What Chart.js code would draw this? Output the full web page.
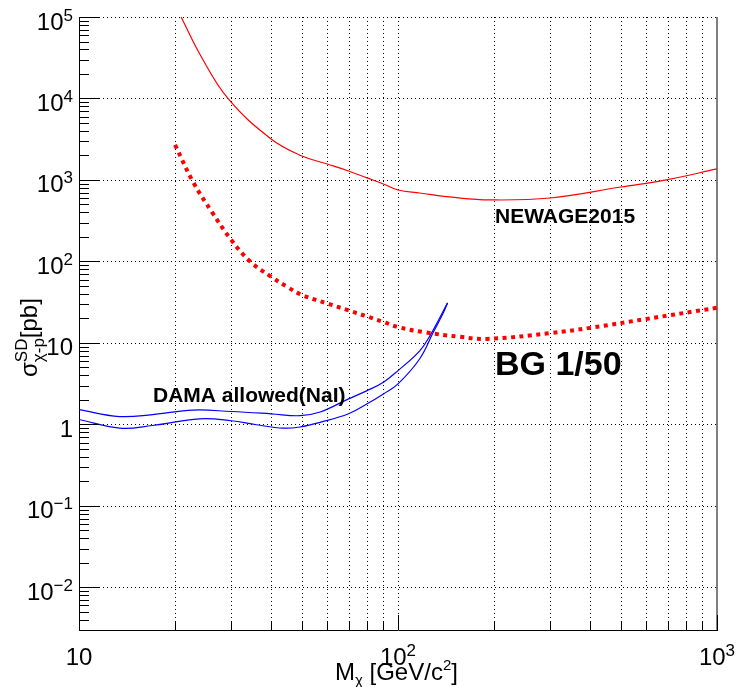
<!DOCTYPE html>
<html>
<head>
<meta charset="utf-8">
<script src="https://cdn.jsdelivr.net/npm/chart.js@4.4.0/dist/chart.umd.min.js"></script>
<style>
  body { margin: 0; background: #fff; }
</style>
</head>
<body>
<canvas id="myChart" width="737" height="687"></canvas>
<script>
// NEWAGE2015 limit (thin red line), M [GeV/c2] vs sigma [pb]
const newageMass = [20.9, 24.0, 29.3, 40, 50, 60, 70, 80, 90, 100, 117, 150, 194, 300, 500, 700, 1000]
const newageSigma = [100000, 34200, 10000, 3190, 1970, 1570, 1290, 1060, 893, 753, 692, 610, 569, 601, 820, 1010, 1365]

// BG 1/50 projection (thick dashed red)
const bgMass = [20, 22.8, 26.1, 30, 34.4, 40, 45, 50, 60, 70, 80, 90, 100, 120, 156, 190, 300, 400, 600, 1000]
const bgSigma = [2700, 940, 405, 184, 100, 65, 48.6, 38.8, 30.5, 25.1, 21.1, 18.1, 15.7, 13.6, 11.9, 11.2, 13.2, 15.3, 19.7, 27]

// DAMA allowed region (NaI), lower and upper edge of the contour
const damaLowMass = [10, 13.4, 17, 23.9, 30, 36, 43.7, 49.3, 57, 70, 80, 90, 100, 117, 129, 139, 143]
const damaLowSigma = [1.15, 0.90, 0.97, 1.17, 1.11, 0.99, 0.90, 0.93, 1.06, 1.35, 1.79, 2.37, 3.14, 6.4, 13.5, 23.8, 31]
const damaUpMass = [10, 13.4, 17, 22.8, 30, 40, 49.3, 57, 70, 80, 90, 100, 117, 126, 143]
const damaUpSigma = [1.52, 1.25, 1.32, 1.50, 1.44, 1.35, 1.28, 1.42, 2.06, 2.6, 3.3, 4.57, 8.0, 12.3, 31]

// axis ticks
const xDecades = [10, 100, 1000]
const xDecadeExp = [1, 2, 3]
const yDecades = [0.001, 0.01, 0.1, 1, 10, 100, 1000, 10000, 100000]
const yDecadeExp = [-3, -2, -1, 0, 1, 2, 3, 4, 5]

const FONT = '"Liberation Sans", Arial, Helvetica, sans-serif'
const ctx = document.getElementById("myChart")

function pts(xs, ys) {
  return xs.map((x, i) => ({ x: x, y: ys[i] }))
}

function font(size, bold) {
  return (bold ? "bold " : "") + size + "px " + FONT
}

// label like 10^n drawn as "10" + superscript
function powParts(e) {
  if (e === 0) return [{ t: "1", size: 24, dy: 0 }]
  if (e === 1) return [{ t: "10", size: 24, dy: 0 }]
  return [{ t: "10", size: 24, dy: 0 }, { t: (e < 0 ? "\u2212" + (-e) : "" + e), size: 17, dy: -9 }]
}

function drawParts(c, parts, x, y, align) {
  let w = 0
  parts.forEach(p => { c.font = font(p.size, p.bold); p.w = c.measureText(p.t).width; w += p.w })
  let cx = x
  if (align === "right") cx = x - w
  if (align === "center") cx = x - w / 2
  c.textAlign = "left"
  c.textBaseline = "alphabetic"
  parts.forEach(p => {
    c.font = font(p.size, p.bold)
    c.fillText(p.t, cx, y + p.dy)
    cx += p.w
  })
}

function minorVals(lo, hi) {
  const out = []
  for (let d = lo; d < hi; d *= 10) {
    for (let k = 2; k <= 9; k++) out.push(d * k)
  }
  return out
}

const rootFrame = {
  id: "rootFrame",
  beforeDatasetsDraw(chart) {
    const c = chart.ctx, xs = chart.scales.x, ys = chart.scales.y, a = chart.chartArea
    c.save()
    c.strokeStyle = "#000"
    c.lineWidth = 1
    c.setLineDash([1, 3])
    const xg = minorVals(10, 1000).concat([100])
    xg.forEach(v => {
      const px = Math.round(xs.getPixelForValue(v)) + 0.5
      c.beginPath(); c.moveTo(px, a.bottom); c.lineTo(px, a.top); c.stroke()
    })
    yDecades.forEach(v => {
      if (v < 0.003) return
      const py = Math.round(ys.getPixelForValue(v)) + 0.5
      c.beginPath(); c.moveTo(a.left, py); c.lineTo(a.right, py); c.stroke()
    })
    // frame on the right
    c.setLineDash([])
    c.strokeStyle = "#555"
    c.lineWidth = 1.5
    c.beginPath(); c.moveTo(a.right, a.top); c.lineTo(a.right, a.bottom); c.stroke()
    c.restore()
  },
  afterDraw(chart) {
    const c = chart.ctx, xs = chart.scales.x, ys = chart.scales.y, a = chart.chartArea
    c.save()
    c.strokeStyle = "#000"
    c.lineWidth = 1
    // y ticks, inside the frame
    yDecades.forEach(v => {
      if (v < 0.003) return
      const py = Math.round(ys.getPixelForValue(v)) + 0.5
      c.beginPath(); c.moveTo(a.left, py); c.lineTo(a.left + 20, py); c.stroke()
    })
    minorVals(0.001, 100000).forEach(v => {
      if (v < 0.003 || v > 100000) return
      const py = Math.round(ys.getPixelForValue(v)) + 0.5
      c.beginPath(); c.moveTo(a.left, py); c.lineTo(a.left + 10, py); c.stroke()
    })
    // x ticks
    xDecades.forEach(v => {
      const px = Math.round(xs.getPixelForValue(v)) + 0.5
      c.beginPath(); c.moveTo(px, a.bottom); c.lineTo(px, a.bottom - 15); c.stroke()
    })
    minorVals(10, 1000).forEach(v => {
      const px = Math.round(xs.getPixelForValue(v)) + 0.5
      c.beginPath(); c.moveTo(px, a.bottom); c.lineTo(px, a.bottom - 8); c.stroke()
    })

    c.fillStyle = "#000"
    // y tick labels
    yDecades.forEach((v, i) => {
      if (v < 0.003) return
      const py = ys.getPixelForValue(v)
      drawParts(c, powParts(yDecadeExp[i]), 73, py + 12.5, "right")
    })
    // x tick labels
    xDecades.forEach((v, i) => {
      const px = xs.getPixelForValue(v)
      drawParts(c, powParts(xDecadeExp[i]), px, 665, "center")
    })

    // x title
    drawParts(c, [
      { t: "M", size: 24, dy: 0 },
      { t: "\u03c7", size: 15, dy: 5 },
      { t: " [GeV/c", size: 24, dy: 0 },
      { t: "2", size: 15, dy: -10 },
      { t: "]", size: 24, dy: 0 }
    ], 335, 680, "left")

    // y title, rotated
    c.save()
    c.translate(37, 377)
    c.rotate(-Math.PI / 2)
    c.font = font(24)
    c.fillText("\u03c3", 0, 0)
    let w = c.measureText("\u03c3").width
    c.font = font(17)
    c.fillText("SD", w, -10)
    const w1 = c.measureText("SD").width
    c.fillText("\u03c7-p", w, 7)
    const w2 = c.measureText("\u03c7-p").width
    w += Math.max(w1, w2)
    c.font = font(24)
    c.fillText("[pb]", w, 0)
    c.restore()

    // annotations
    c.font = font(21, true)
    c.fillText("NEWAGE2015", 495, 223)
    c.fillText("DAMA allowed(NaI)", 153, 402)
    c.font = font(34, true)
    c.fillText("BG 1/50", 495, 375)
    c.restore()
  }
}

new Chart(ctx, {
  type: "line",
  data: {
    datasets: [
      {
        label: "BG 1/50",
        data: pts(bgMass, bgSigma),
        borderColor: "rgb(255, 0, 0)",
        borderWidth: 4,
        borderDash: [4, 4.5],
        pointRadius: 0,
        tension: 0.4,
        fill: false
      },
      {
        label: "NEWAGE2015",
        data: pts(newageMass, newageSigma),
        borderColor: "rgb(255, 0, 0)",
        borderWidth: 1.2,
        pointRadius: 0,
        tension: 0.4,
        fill: false
      },
      {
        label: "DAMA upper",
        data: pts(damaUpMass, damaUpSigma),
        borderColor: "rgb(0, 0, 255)",
        borderWidth: 1.2,
        pointRadius: 0,
        tension: 0.4,
        fill: false
      },
      {
        label: "DAMA lower",
        data: pts(damaLowMass, damaLowSigma),
        borderColor: "rgb(0, 0, 255)",
        borderWidth: 1.2,
        pointRadius: 0,
        tension: 0.4,
        fill: false
      }
    ]
  },
  options: {
    responsive: false,
    animation: false,
    devicePixelRatio: 1,
    layout: { padding: { left: 79, right: 20, top: 17, bottom: 57 } },
    plugins: {
      legend: { display: false },
      tooltip: { enabled: false }
    },
    scales: {
      x: {
        type: "logarithmic",
        min: 10,
        max: 1000,
        ticks: { display: false },
        grid: { display: false, drawTicks: false },
        border: { display: true, color: "#000", width: 1 }
      },
      y: {
        type: "logarithmic",
        min: 0.003,
        max: 100000,
        ticks: { display: false },
        grid: { display: false, drawTicks: false },
        border: { display: true, color: "#000", width: 1 }
      }
    }
  },
  plugins: [rootFrame]
})
</script>
</body>
</html>
